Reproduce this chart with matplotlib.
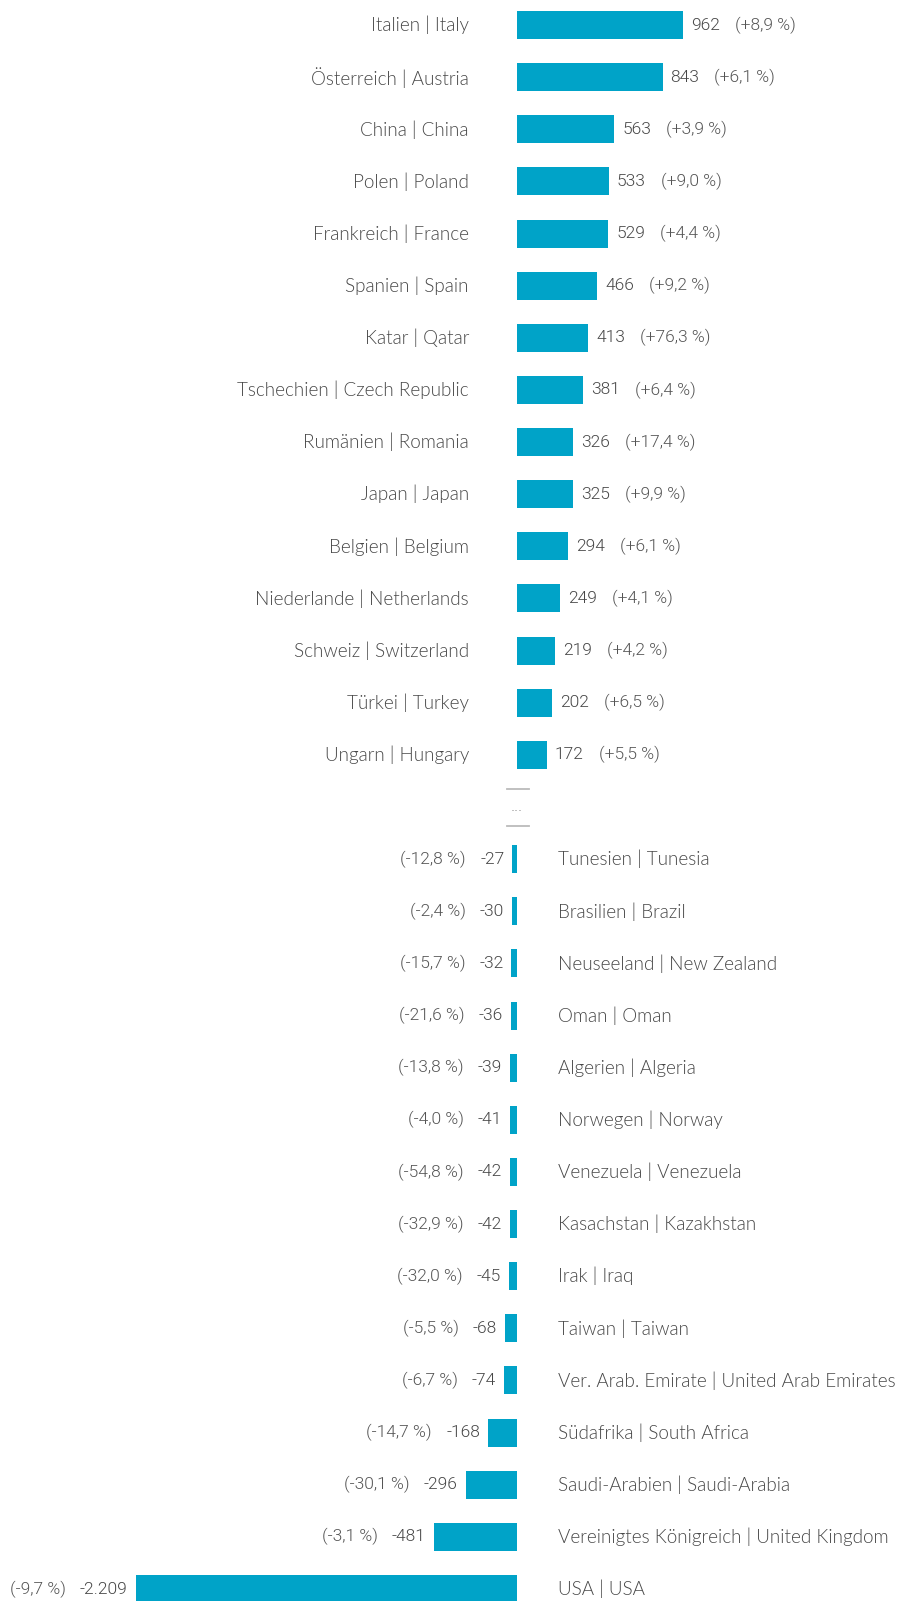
import matplotlib
matplotlib.use("Agg")
import matplotlib.pyplot as plt

# Länder mit Zuwachs (oben) und mit Rückgang (unten)
laender_plus = ["Italien | Italy", "Österreich | Austria", "China | China", "Polen | Poland",
                "Frankreich | France", "Spanien | Spain", "Katar | Qatar",
                "Tschechien | Czech Republic", "Rumänien | Romania", "Japan | Japan",
                "Belgien | Belgium", "Niederlande | Netherlands", "Schweiz | Switzerland",
                "Türkei | Turkey", "Ungarn | Hungary"]
werte_plus = [962, 843, 563, 533, 529, 466, 413, 381, 326, 325, 294, 249, 219, 202, 172]
prozent_plus = [8.9, 6.1, 3.9, 9.0, 4.4, 9.2, 76.3, 6.4, 17.4, 9.9, 6.1, 4.1, 4.2, 6.5, 5.5]

laender_minus = ["Tunesien | Tunesia", "Brasilien | Brazil", "Neuseeland | New Zealand",
                 "Oman | Oman", "Algerien | Algeria", "Norwegen | Norway",
                 "Venezuela | Venezuela", "Kasachstan | Kazakhstan", "Irak | Iraq",
                 "Taiwan | Taiwan", "Ver. Arab. Emirate | United Arab Emirates",
                 "Südafrika | South Africa", "Saudi-Arabien | Saudi-Arabia",
                 "Vereinigtes Königreich | United Kingdom", "USA | USA"]
werte_minus = [-27, -30, -32, -36, -39, -41, -42, -42, -45, -68, -74, -168, -296, -481, -2209]
prozent_minus = [-12.8, -2.4, -15.7, -21.6, -13.8, -4.0, -54.8, -32.9, -32.0, -5.5, -6.7,
                 -14.7, -30.1, -3.1, -9.7]

blau = "#00a3c8"
grau = "#474747"
grau_hell = "#555555"

def zahl(v):
    # deutsches Format: Tausenderpunkt
    return "{:,}".format(v).replace(",", ".")

def prozent(p):
    return "({:+.1f} %)".format(p).replace(".", ",")

fig = plt.figure(figsize=(9.05, 16.01), dpi=100)
ax = fig.add_axes([0, 0, 1, 1])
ax.set_xlim(-2994, 2247)
ax.set_ylim(30.23, -0.48)
ax.axis("off")

y_plus = list(range(len(werte_plus)))
y_minus = [i + len(werte_plus) + 1 for i in range(len(werte_minus))]

ax.barh(y_plus, werte_plus, height=0.537, color=blau)
ax.barh(y_minus, werte_minus, height=0.537, color=blau)

font_land = dict(family="Lato", size=13.6, color=grau, weight=300)
font_wert = dict(family="Roboto", size=12.5, color=grau, weight=300)
font_proz = dict(family="Roboto", size=12.5, color=grau_hell, weight=300)

for y, v, p, land in zip(y_plus, werte_plus, prozent_plus, laender_plus):
    ax.annotate(land, xy=(0, y), xytext=(-48, 0), textcoords="offset pixels",
                ha="right", va="center", **font_land)
    t = ax.annotate(zahl(v), xy=(v, y), xytext=(8, 0), textcoords="offset pixels",
                    ha="left", va="center", **font_wert)
    ax.annotate(prozent(p), xy=(1, 0.5), xycoords=t, xytext=(15, 0),
                textcoords="offset pixels", ha="left", va="center", **font_proz)

for y, v, p, land in zip(y_minus, werte_minus, prozent_minus, laender_minus):
    ax.annotate(land, xy=(0, y), xytext=(41, 0), textcoords="offset pixels",
                ha="left", va="center", **font_land)
    t = ax.annotate(zahl(v), xy=(v, y), xytext=(-8, 0), textcoords="offset pixels",
                    ha="right", va="center", **font_wert)
    ax.annotate(prozent(p), xy=(0, 0.5), xycoords=t, xytext=(-14, 0),
                textcoords="offset pixels", ha="right", va="center", **font_proz)

# Trenner zwischen den beiden Gruppen
y_gap = len(werte_plus)
ax.axhline(y_gap - 0.34, xmin=0.560, xmax=0.585, color="#bbbbbb", lw=1.3)
ax.axhline(y_gap + 0.37, xmin=0.560, xmax=0.585, color="#bbbbbb", lw=1.3)
ax.text(0, y_gap, "...", ha="center", va="center", fontsize=9, color="#999999")

fig.savefig("out.png", dpi=100)
